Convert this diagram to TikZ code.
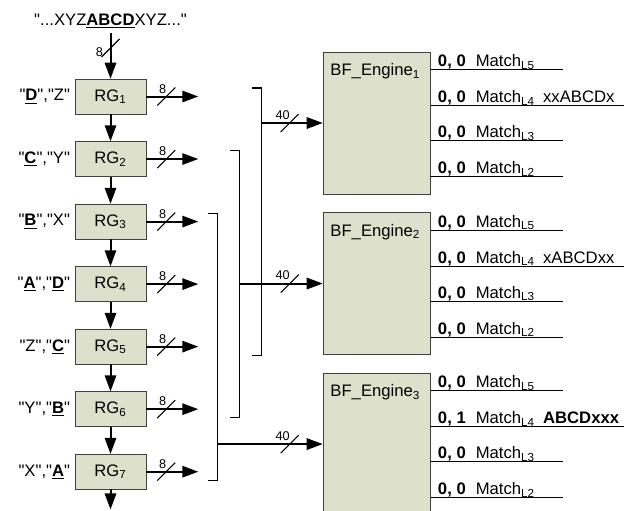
\documentclass[tikz,border=0pt]{standalone}
\usepackage{fontspec}
\setmainfont{Liberation Sans}
\usetikzlibrary{arrows.meta,positioning,calc}
\definecolor{regfill}{RGB}{221,225,204}
\definecolor{edge}{RGB}{64,64,64}
\newcommand{\dquote}{\textquotedbl}

\begin{document}
\begin{tikzpicture}[x=0.75pt,y=-0.75pt,node distance=20.25pt,
 every node/.style={font=\fontsize{12.5}{14}\selectfont},
 rg/.style={draw=edge,fill=regfill,minimum width=53.25pt,minimum height=26.25pt},
 engine/.style={draw=edge,fill=regfill,minimum width=80.25pt,minimum height=106.5pt},
 bus/.style={-{Triangle[length=12pt,width=8.5pt]},line width=1.5pt},
 brk/.style={line width=0.8pt},
 mline/.style={line width=0.9pt},
 wlab/.style={font=\fontsize{9.5}{10}\selectfont,inner sep=1pt},
 mtxt/.style={anchor=base west},
 pics/wslash/.style={code={\draw[brk] (-9,9) -- (9,-9);}}]
\useasboundingbox (0,0) rectangle (624,510);
\clip (0,0) rectangle (624,510);
% register chain
\node (src) at (110.5,21) {\dquote...XYZ\underline{\textbf{ABCD}}XYZ...\dquote};
\node[rg] (rg1) at (110.5,96.5) {RG\textsubscript{1}};
\foreach \i [remember=\i as \j (initially 1)] in {2,...,7}
  \node[rg,below=of rg\j] (rg\i) {RG\textsubscript{\i}};
\node[left=0pt of rg1] (c1) {\dquote\underline{\textbf{D}}\dquote,\dquote Z\dquote};
\node[left=0pt of rg2] (c2) {\dquote\underline{\textbf{C}}\dquote,\dquote Y\dquote};
\node[left=0pt of rg3] (c3) {\dquote\underline{\textbf{B}}\dquote,\dquote X\dquote};
\node[left=0pt of rg4] (c4) {\dquote\underline{\textbf{A}}\dquote,\dquote\underline{\textbf{D}}\dquote};
\node[left=0pt of rg5] (c5) {\dquote Z\dquote,\dquote\underline{\textbf{C}}\dquote};
\node[left=0pt of rg6] (c6) {\dquote Y\dquote,\dquote\underline{\textbf{B}}\dquote};
\node[left=0pt of rg7] (c7) {\dquote X\dquote,\dquote\underline{\textbf{A}}\dquote};
\draw[bus] (src.south) -- (rg1.north);
\pic at (110.5,48) {wslash};
\node[wlab,anchor=east] (w0) at (104.5,52) {8};
\foreach \i [remember=\i as \j (initially 1)] in {2,...,7}
  \draw[bus] (rg\j.south) -- (rg\i.north);
\coordinate[below=15pt of rg7.south] (sink);
\draw[bus] (rg7.south) -- (sink);
\foreach \i in {1,...,7}{
  \coordinate[right=39pt of rg\i.east] (o\i);
  \draw[bus] (rg\i.east) -- (o\i);
  \pic at ($(rg\i.east)+(20,0)$) {wslash};
  \node[wlab,anchor=south east] (w\i) at ($(rg\i.east)+(21.5,-1.5)$) {8};
}
% engines
\node[engine] (eng1) at (376.5,123) {};
\node[engine,below=13.5pt of eng1] (eng2) {};
\node[engine,below=13.5pt of eng2] (eng3) {};
\foreach \k/\d/\e in {1/63/5,2/41/6,3/19/7}{
  \node[anchor=north west] (name\k) at ($(eng\k.north west)+(3,7)$) {BF\_Engine\textsubscript{\k}};
  \coordinate (br\k) at ($(o\k)+(\d,0)$);
  \draw[brk] ($(br\k)+(-9,-8.5)$) -| ($(br\k|-o\e)+(0,8.5)$) -- ++(-9,0);
  \draw[bus] (br\k|-eng\k.west) -- (eng\k.west);
  \pic at ($(eng\k.west)+(-33,0)$) {wslash};
  \node[wlab,anchor=south east] (x\k) at ($(eng\k.west)+(-31.5,-2)$) {40};
}
% match outputs
\foreach \k/\v/\s in {1/0/xxABCDx,2/0/xABCDxx,3/1/\textbf{ABCDxxx}}{
  \foreach \l/\dy in {5/18,3/89,2/125}{
    \draw[mline] ($(eng\k.north east)+(0,\dy)$) coordinate (m\k\l) -- ++(133,0);
    \node[mtxt] (t\k\l) at ($(m\k\l)+(3,-3)$) {\textbf{0, 0}\hspace{.6em}Match\textsubscript{L\l}};
  }
  \draw[mline] ($(eng\k.north east)+(0,54)$) coordinate (m\k4) -- ++(200,0);
  \node[mtxt] (t\k4) at ($(m\k4)+(3,-3)$) {\textbf{0, \v}\hspace{.6em}Match\textsubscript{L4}\hspace{.5em}\s};
}
\end{tikzpicture}
\end{document}
